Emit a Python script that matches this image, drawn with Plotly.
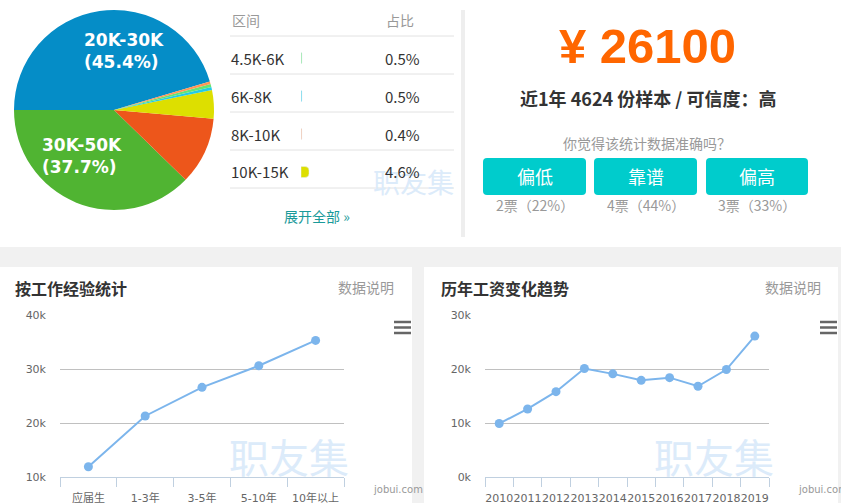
import plotly.graph_objects as go

W, H = 841, 503
CJK = "Noto Sans CJK SC"
AX = "DejaVu Sans, Noto Sans CJK SC"

# ---- data ----
pie_labels = ["20K-30K", "30K-50K", "15K-20K", "10K-15K", "6K-8K", "4.5K-6K", "8K-10K"]
pie_values = [45.4, 37.7, 10.9, 4.6, 0.5, 0.5, 0.4]
pie_colors = ["#058DC7", "#50B432", "#ED561B", "#DDDF00", "#24CBE5", "#64E572", "#FF9655"]

table_ranges = ["4.5K-6K", "6K-8K", "8K-10K", "10K-15K"]
table_pct = [0.5, 0.5, 0.4, 4.6]
table_colors = ["#64E572", "#24CBE5", "#FF9655", "#DDDF00"]

avg_salary = 26100
sample_count = 4624
vote_labels = ["偏低", "靠谱", "偏高"]
vote_counts = [2, 4, 3]
vote_pct = [22, 44, 33]

exp_labels = ["应届生", "1-3年", "3-5年", "5-10年", "10年以上"]
exp_salary_k = [11.9, 21.3, 26.6, 30.6, 35.3]

years = ["2010", "2011", "2012", "2013", "2014", "2015", "2016", "2017", "2018", "2019"]
year_salary_k = [9.9, 12.6, 15.8, 20.1, 19.1, 17.9, 18.4, 16.8, 19.9, 26.1]


def px(x):
    return x / W


def py(y):
    return 1 - y / H


fig = go.Figure()

# pie
fig.add_trace(go.Pie(
    labels=pie_labels, values=pie_values, sort=False,
    direction="counterclockwise", rotation=-90,
    marker=dict(colors=pie_colors, line=dict(width=0)),
    textinfo="none",
    domain=dict(x=[px(14), px(214)], y=[py(210), py(10)]),
    showlegend=False, hoverinfo="label+percent",
))

# mini bars in the table
fig.add_trace(go.Bar(
    x=table_pct, y=list(range(len(table_pct))), orientation="h",
    marker=dict(color=table_colors, cornerradius=4), width=0.29,
    xaxis="x3", yaxis="y3", showlegend=False, hoverinfo="skip",
))

line_style = dict(color="#7cb5ec", width=2)
marker_style = dict(color="#7cb5ec", size=9)

fig.add_trace(go.Scatter(
    x=list(range(len(exp_labels))), y=exp_salary_k, mode="lines+markers",
    line=line_style, marker=marker_style, xaxis="x", yaxis="y", showlegend=False,
))
fig.add_trace(go.Scatter(
    x=list(range(len(years))), y=year_salary_k, mode="lines+markers",
    line=line_style, marker=marker_style, xaxis="x2", yaxis="y2", showlegend=False,
))


def cat_axis(labels, x0, x1, anchor):
    n = len(labels)
    return dict(
        domain=[px(x0), px(x1)], range=[-0.5, n - 0.5], anchor=anchor, automargin=False,
        tickmode="array", tickvals=list(range(n)), ticktext=labels, tickangle=0,
        ticks="", showgrid=False, zeroline=False,
        showline=True, linecolor="#C0D0E0", linewidth=1,
        tickfont=dict(family=AX, size=11, color="#666"),
        ticklabelstandoff=11,
        minor=dict(tickmode="array", tickvals=[i - 0.5 for i in range(n + 1)],
                   ticks="outside", ticklen=9, tickcolor="#C0D0E0", showgrid=False),
        fixedrange=True,
    )


def val_axis(lo, hi, anchor):
    vals = list(range(lo, hi + 1, 10))
    return dict(
        domain=[py(477), py(315)], range=[lo, hi], anchor=anchor, automargin=False,
        tickmode="array", tickvals=vals, ticktext=[f"{v}k" for v in vals],
        showgrid=True, gridcolor="#C0C0C0", gridwidth=1, zeroline=False, showline=False,
        tickfont=dict(family=AX, size=11, color="#666"), ticklabelstandoff=13,
        fixedrange=True,
    )


shapes = []
# grey page background under bottom panels
shapes.append(dict(type="rect", xref="paper", yref="paper", x0=0, x1=1, y0=0, y1=py(247),
                   fillcolor="#F1F1F1", line=dict(width=0), layer="below"))
for x0, x1 in [(0, 412), (424, 838)]:
    shapes.append(dict(type="rect", xref="paper", yref="paper", x0=px(x0), x1=px(x1), y0=0, y1=py(267),
                       fillcolor="white", line=dict(width=0), layer="below"))
# vertical separator at top
shapes.append(dict(type="rect", xref="paper", yref="paper", x0=px(461), x1=px(465), y0=py(237), y1=py(10),
                   fillcolor="#EEEEEE", line=dict(width=0), layer="below"))
# table rules
for yy in [36, 74, 112, 150, 188]:
    shapes.append(dict(type="line", xref="paper", yref="paper", x0=px(230), x1=px(454), y0=py(yy), y1=py(yy),
                       line=dict(color="#E2E2E2", width=1), layer="below"))


def rounded(x0, y0, x1, y1, r):
    pts = [
        f"M{px(x0 + r)},{py(y0)}", f"L{px(x1 - r)},{py(y0)}", f"Q{px(x1)},{py(y0)} {px(x1)},{py(y0 + r)}",
        f"L{px(x1)},{py(y1 - r)}", f"Q{px(x1)},{py(y1)} {px(x1 - r)},{py(y1)}",
        f"L{px(x0 + r)},{py(y1)}", f"Q{px(x0)},{py(y1)} {px(x0)},{py(y1 - r)}",
        f"L{px(x0)},{py(y0 + r)}", f"Q{px(x0)},{py(y0)} {px(x0 + r)},{py(y0)}", "Z",
    ]
    return " ".join(pts)


btn_x = [(483, 586), (594, 697), (706, 808)]
for x0, x1 in btn_x:
    shapes.append(dict(type="path", xref="paper", yref="paper", path=rounded(x0, 158, x1, 195, 4),
                       fillcolor="#00CCCC", line=dict(width=0)))

# menu icons
for x0, x1 in [(394, 411), (820, 837)]:
    for yy in [322, 327.5, 333]:
        shapes.append(dict(type="line", xref="paper", yref="paper", x0=px(x0), x1=px(x1), y0=py(yy), y1=py(yy),
                           line=dict(color="#666666", width=2.5)))

ann = []


def text(x, y, s, size=14, color="#333", anchor="left", family=CJK, bold=False):
    ann.append(dict(x=px(x), y=py(y), xref="paper", yref="paper", text=s, showarrow=False,
                    xanchor=anchor, yanchor="middle", align="left",
                    font=dict(family=family, size=size, color=color, weight="bold" if bold else "normal")))


# pie data labels (two largest slices)
for (lx, ly), lab, v in zip([(82, 51), (40, 156)], pie_labels[:2], pie_values[:2]):
    text(lx, ly, f"{lab}<br>({v}%)", 17, "white", "left", "DejaVu Sans", True)

# watermarks
text(413, 182, "职友集", 27, "#DCEBFA", "center")
text(289, 456, "职友集", 40, "#DCEBFA", "center")
text(714, 456, "职友集", 40, "#DCEBFA", "center")

# table
text(230, 20, "区间", 14, "#999")
text(384, 20, "占比", 14, "#999")
for i, (r, p) in enumerate(zip(table_ranges, table_pct)):
    yy = 58 + 38 * i
    text(229, yy, r, 15, "#333")
    text(383, yy, f"{p}%", 15, "#333")
text(282, 216, "展开全部 »", 14, "#1A9A9A")

# summary
text(647, 46, f"¥ {avg_salary}", 49, "#FF6600", "center", "Liberation Sans", True)
text(648, 98, f"近1年 {sample_count} 份样本 / 可信度：高", 18, "#333", "center", CJK, True)
text(647, 143, "你觉得该统计数据准确吗？", 14, "#999", "center")
for (x0, x1), lab, c, p in zip(btn_x, vote_labels, vote_counts, vote_pct):
    cx = (x0 + x1) / 2
    text(cx, 176, lab, 18, "white", "center")
    text(cx, 205, f"{c}票（{p}%）", 14, "#999", "center")

# bottom panel headers
text(13, 288, "按工作经验统计", 16, "#333", bold=True)
text(396, 287, "数据说明", 14, "#999", "right")
text(439, 288, "历年工资变化趋势", 16, "#333", bold=True)
text(823, 287, "数据说明", 14, "#999", "right")
text(371, 489, "jobui.com", 10, "#999", "left", AX)
text(796, 489, "jobui.com", 10, "#999", "left", AX)

fig.update_layout(
    width=W, height=H, margin=dict(l=0, r=0, t=0, b=0, autoexpand=False),
    paper_bgcolor="white", plot_bgcolor="rgba(0,0,0,0)",
    xaxis=cat_axis(exp_labels, 60, 344, "y"),
    yaxis=val_axis(10, 40, "x"),
    xaxis2=cat_axis(years, 485, 769, "y2"),
    yaxis2=val_axis(0, 30, "x2"),
    xaxis3=dict(domain=[px(301), px(361)], range=[0, 34.5], visible=False, anchor="y3", fixedrange=True),
    yaxis3=dict(domain=[py(191), py(39)], range=[3.5, -0.5], visible=False, anchor="x3", fixedrange=True),
    shapes=shapes, annotations=ann, showlegend=False,
)

fig.write_html("out.html", config={"displayModeBar": False},
               post_script="document.body.style.margin='0';document.body.style.overflow='hidden';")
